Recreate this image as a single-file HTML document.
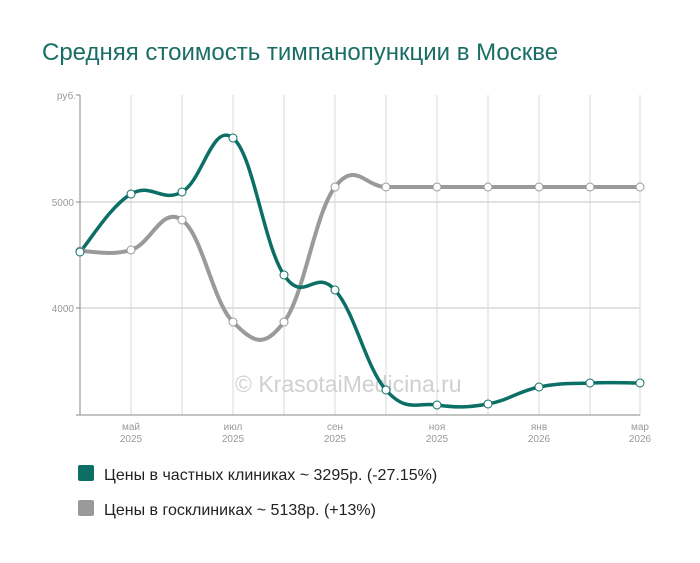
<!DOCTYPE html>
<html><head><meta charset="utf-8"><style>
body{margin:0;background:#fff;width:700px;height:558px;overflow:hidden;font-family:"Liberation Sans",sans-serif}
</style></head><body>
<svg width="700" height="558" xmlns="http://www.w3.org/2000/svg" font-family="Liberation Sans, sans-serif">
<text x="42" y="60" font-size="24" fill="#1a6e66">Средняя стоимость тимпанопункции в Москве</text>
<g stroke="#d8d8d8" stroke-width="1">
<line x1="80" y1="202" x2="640" y2="202" stroke="#e2e2e2" stroke-width="2"/>
<line x1="80" y1="308" x2="640" y2="308" stroke="#e2e2e2" stroke-width="2"/>
<line x1="131" y1="95" x2="131" y2="415"/><line x1="182" y1="95" x2="182" y2="415"/>
<line x1="233" y1="95" x2="233" y2="415"/><line x1="284" y1="95" x2="284" y2="415"/>
<line x1="335" y1="95" x2="335" y2="415"/><line x1="386" y1="95" x2="386" y2="415"/>
<line x1="437" y1="95" x2="437" y2="415"/><line x1="488" y1="95" x2="488" y2="415"/>
<line x1="539" y1="95" x2="539" y2="415"/><line x1="590" y1="95" x2="590" y2="415"/>
<line x1="640" y1="95" x2="640" y2="415"/>
</g>
<g stroke="#888" stroke-width="1">
<line x1="80" y1="95" x2="80" y2="415"/><line x1="76" y1="415" x2="640" y2="415"/>
<line x1="76" y1="95" x2="80" y2="95"/><line x1="76" y1="202" x2="80" y2="202"/><line x1="76" y1="308" x2="80" y2="308"/>
</g>
<g font-size="10" fill="#999" text-anchor="end">
<text x="76" y="99">руб.</text><text x="74" y="206">5000</text><text x="74" y="312">4000</text>
</g>
<g font-size="10" fill="#999" text-anchor="middle">
<text x="131" y="430">май</text><text x="131" y="442">2025</text>
<text x="233" y="430">июл</text><text x="233" y="442">2025</text>
<text x="335" y="430">сен</text><text x="335" y="442">2025</text>
<text x="437" y="430">ноя</text><text x="437" y="442">2025</text>
<text x="539" y="430">янв</text><text x="539" y="442">2026</text>
<text x="640" y="430">мар</text><text x="640" y="442">2026</text>
</g>
<text x="235" y="392" font-size="23" fill="#d0d0d0">© KrasotaiMedicina.ru</text>
<g id="c"></g>
<rect x="78" y="465" width="16" height="16" rx="2" fill="#0b6f66"/>
<text x="104" y="480" font-size="16" fill="#222">Цены в частных клиниках ~ 3295р. (-27.15%)</text>
<rect x="78" y="500" width="16" height="16" rx="2" fill="#999"/>
<text x="104" y="515" font-size="16" fill="#222">Цены в госклиниках ~ 5138р. (+13%)</text>
</svg>
<script>
const xs=[80,131,182,233,284,335,386,437,488,539,590,640];
const g=[252,194,192,138,275,290,390,405,404,387,383,383];
const r=[251,250,220,322,322,187,187,187,187,187,187,187];
function path(ys){let d=`M${xs[0]},${ys[0]}`;for(let i=0;i<xs.length-1;i++){const p0=[xs[Math.max(i-1,0)],ys[Math.max(i-1,0)]],p1=[xs[i],ys[i]],p2=[xs[i+1],ys[i+1]],p3=[xs[Math.min(i+2,xs.length-1)],ys[Math.min(i+2,xs.length-1)]];const t=0.2;d+=` C${p1[0]+(p2[0]-p0[0])*t},${p1[1]+(p2[1]-p0[1])*t} ${p2[0]-(p3[0]-p1[0])*t},${p2[1]-(p3[1]-p1[1])*t} ${p2[0]},${p2[1]}`;}return d;}
let s='';
s+=`<path d="${path(r)}" fill="none" stroke="#9a9a9a" stroke-width="4"/>`;
s+=`<path d="${path(g)}" fill="none" stroke="#0b6f66" stroke-width="3.5"/>`;
r.forEach((y,i)=>s+=`<circle cx="${xs[i]}" cy="${y}" r="4" fill="#fff" stroke="#999" stroke-width="1"/>`);
g.forEach((y,i)=>s+=`<circle cx="${xs[i]}" cy="${y}" r="4" fill="#fff" stroke="#0b6f66" stroke-width="1"/>`);
document.getElementById('c').innerHTML=s;
</script>
</body></html>
